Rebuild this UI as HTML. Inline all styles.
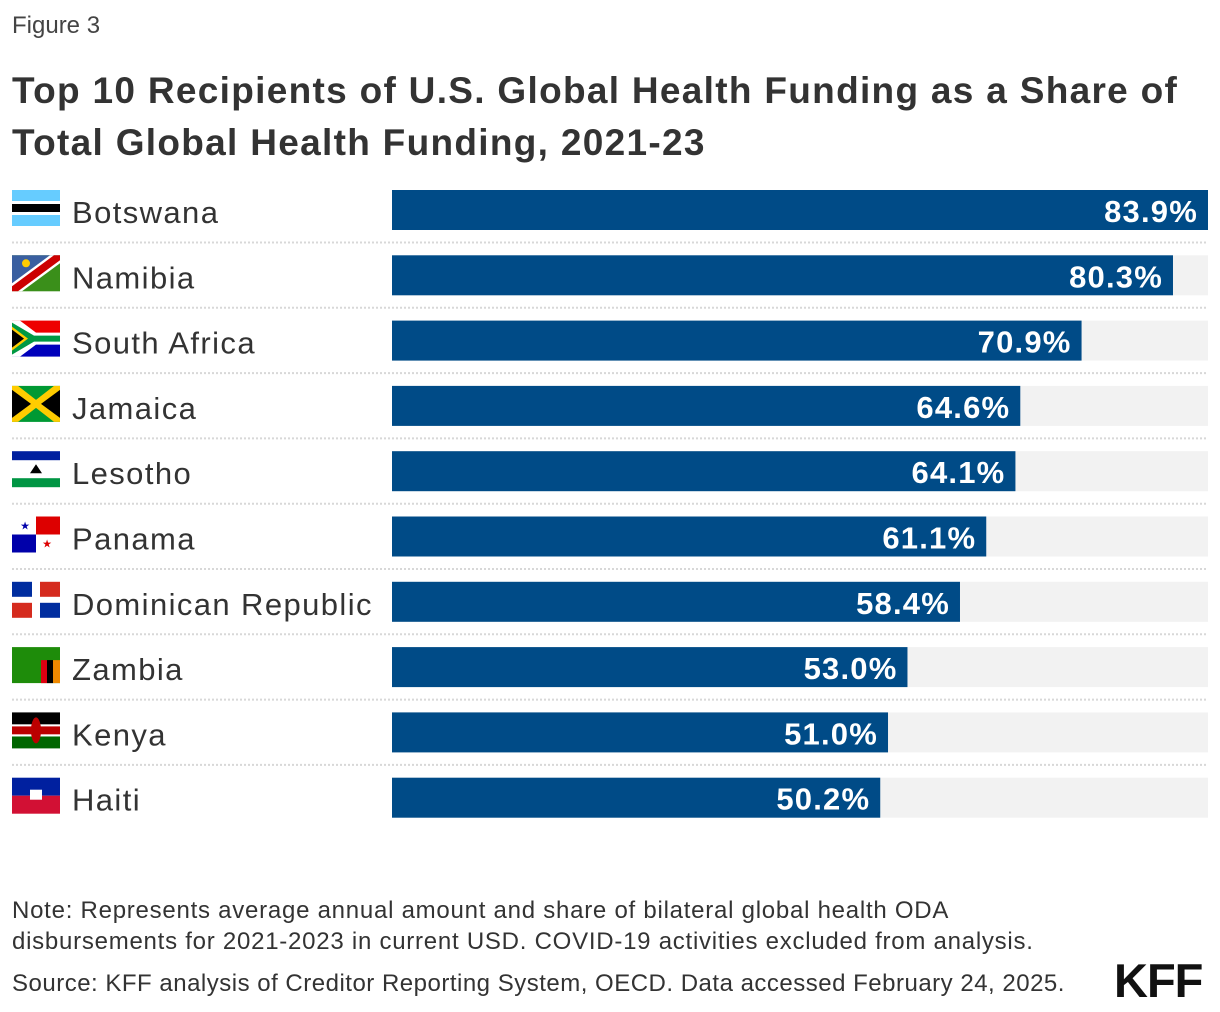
<!DOCTYPE html>
<html><head><meta charset="utf-8"><style>
body{margin:0;background:#fff;width:1220px;height:1012px;overflow:hidden;font-family:"Liberation Sans",sans-serif;color:#333;}
.abs{position:absolute;}
</style></head><body>
<div class="abs" style="left:12px;top:12px;font-size:24px;color:#444;">Figure 3</div>
<div class="abs" style="left:12px;top:65px;font-size:37px;font-weight:bold;line-height:52px;color:#333;letter-spacing:1.3px;">Top 10 Recipients of U.S. Global Health Funding as a Share of<br>Total Global Health Funding, 2021-23</div>
<svg class="abs" style="left:0;top:0" width="1220" height="1012" id="chart"></svg>
<div class="abs" style="left:12px;top:895px;font-size:24px;line-height:31px;color:#333;letter-spacing:0.75px;">Note: Represents average annual amount and share of bilateral global health ODA<br>disbursements for 2021-2023 in current USD. COVID-19 activities excluded from analysis.</div>
<div class="abs" style="left:12px;top:970px;font-size:24px;color:#333;letter-spacing:0.5px;">Source: KFF analysis of Creditor Reporting System, OECD. Data accessed February 24, 2025.</div>
<div class="abs" style="left:1114px;top:953px;font-size:47px;font-weight:bold;color:#111;letter-spacing:-1px;">KFF</div>
<script>
const categories=["Botswana","Namibia","South Africa","Jamaica","Lesotho","Panama","Dominican Republic","Zambia","Kenya","Haiti"];
const values=[83.9,80.3,70.9,64.6,64.1,61.1,58.4,53.0,51.0,50.2];
const labels=["83.9%","80.3%","70.9%","64.6%","64.1%","61.1%","58.4%","53.0%","51.0%","50.2%"];
const svg=document.getElementById('chart');
const NS='http://www.w3.org/2000/svg';
const x0=392,x1=1208,top0=190,pitch=65.3,bh=40;
const maxV=Math.max(...values);
const xs=v=>x0+(x1-x0)*v/maxV;
const ys=i=>top0+i*pitch;
function mk(t,a){const e=document.createElementNS(NS,t);for(const k in a)e.setAttribute(k,a[k]);svg.appendChild(e);return e;}
const flagFns=[
 (g,y)=>{g.push(['rect',12,y,48,36,'#6cf']);g.push(['rect',12,y+11,48,14,'#fff']);g.push(['rect',12,y+14,48,8,'#000']);},
 (g,y)=>{g.push(['rect',12,y,48,36,'#3a8f1a']);g.push(['poly',`12,${y} 60,${y} 12,${y+36}`,'#3a5fa0']);g.push(['poly',`12,${y+36} 12,${y+28} 50,${y} 60,${y} 60,${y+8} 22,${y+36}`,'#fff']);g.push(['poly',`12,${y+36} 12,${y+31} 54,${y} 60,${y} 60,${y+5} 18,${y+36}`,'#c00']);g.push(['circ',26,y+8,4,'#fc0']);},
 (g,y)=>{g.push(['rect',12,y,48,18,'#e00']);g.push(['rect',12,y+18,48,18,'#00b']);g.push(['poly',`12,${y} 20,${y} 36,${y+12} 60,${y+12} 60,${y+24} 36,${y+24} 20,${y+36} 12,${y+36}`,'#fff']);g.push(['poly',`12,${y+2} 34,${y+15} 60,${y+15} 60,${y+21} 34,${y+21} 12,${y+34}`,'#094']);g.push(['poly',`12,${y+6} 28,${y+18} 12,${y+30}`,'#fc0']);g.push(['poly',`12,${y+9} 24,${y+18} 12,${y+27}`,'#000']);},
 (g,y)=>{g.push(['rect',12,y,48,36,'#093']);g.push(['poly',`12,${y+2} 34,${y+18} 12,${y+34}`,'#000']);g.push(['poly',`60,${y+2} 38,${y+18} 60,${y+34}`,'#000']);g.push(['poly',`12,${y} 18,${y} 36,${y+14} 54,${y} 60,${y} 60,${y+4} 41,${y+18} 60,${y+32} 60,${y+36} 54,${y+36} 36,${y+22} 18,${y+36} 12,${y+36} 12,${y+32} 31,${y+18} 12,${y+4}`,'#fc0']);},
 (g,y)=>{g.push(['rect',12,y,48,36,'#fff']);g.push(['rect',12,y,48,9,'#00209f']);g.push(['rect',12,y+27,48,9,'#009543']);g.push(['poly',`30,${y+22} 36,${y+13} 42,${y+22}`,'#000']);},
 (g,y)=>{g.push(['rect',12,y,48,36,'#fff']);g.push(['rect',36,y,24,18,'#d00']);g.push(['rect',12,y+18,24,18,'#00a']);g.push(['text',25,y+13,'★','#00a']);g.push(['text',47,y+31,'★','#d00']);},
 (g,y)=>{g.push(['rect',12,y,48,36,'#fff']);g.push(['rect',12,y,20,15,'#002d9f']);g.push(['rect',40,y,20,15,'#d52b1e']);g.push(['rect',12,y+21,20,15,'#d52b1e']);g.push(['rect',40,y+21,20,15,'#002d9f']);},
 (g,y)=>{g.push(['rect',12,y,48,36,'#1e8c0a']);g.push(['rect',41,y+13,6,23,'#d01']);g.push(['rect',47,y+13,6,23,'#000']);g.push(['rect',53,y+13,7,23,'#e80']);},
 (g,y)=>{g.push(['rect',12,y,48,12,'#000']);g.push(['rect',12,y+12,48,12,'#fff']);g.push(['rect',12,y+14,48,8,'#b00']);g.push(['rect',12,y+24,48,12,'#060']);g.push(['rect',12,y+22,48,2,'#fff']);g.push(['ell',36,y+18,5,13,'#b00']);},
 (g,y)=>{g.push(['rect',12,y,48,18,'#00209f']);g.push(['rect',12,y+18,48,18,'#d21034']);g.push(['rect',30,y+12,12,10,'#fff']);}
];
categories.forEach((c,i)=>{
  const y=ys(i);
  if(i<categories.length-1){const l=mk('line',{x1:12,x2:1208,y1:y+bh+12.5,y2:y+bh+12.5,stroke:'#d8d8d8','stroke-width':2,'stroke-dasharray':'2,2'});
  
  }
  const tr=mk('rect',{x:x0,y:y,width:x1-x0,height:bh,fill:'#f2f2f2'});
  
  
  const b=mk('rect',{x:x0,y:y,width:xs(values[i])-x0,height:bh,fill:'#004b87'});
  
  
  const v=mk('text',{x:xs(values[i])-10,y:y+32,'text-anchor':'end',fill:'#fff','font-size':31,'font-weight':'bold','letter-spacing':'1.2','font-family':'Liberation Sans, sans-serif'});
  v.textContent=labels[i];
  
  
  const t=mk('text',{x:72,y:y+33,fill:'#333','font-size':31,'letter-spacing':'1.4','font-family':'Liberation Sans, sans-serif'});
  t.textContent=c;
  
  
  const parts=[];flagFns[i](parts,y);
  parts.forEach(p=>{let e;
    if(p[0]=='rect')e=mk('rect',{x:p[1],y:p[2],width:p[3],height:p[4],fill:p[5]});
    else if(p[0]=='poly')e=mk('polygon',{points:p[1],fill:p[2]});
    else if(p[0]=='circ')e=mk('circle',{cx:p[1],cy:p[2],r:p[3],fill:p[4]});
    else if(p[0]=='ell')e=mk('ellipse',{cx:p[1],cy:p[2],rx:p[3],ry:p[4],fill:p[5]});
    else {e=mk('text',{x:p[1],y:p[2],'text-anchor':'middle','font-size':11,fill:p[4]});e.textContent=p[3];}
    
    
  });
});
</script>
</body></html>
